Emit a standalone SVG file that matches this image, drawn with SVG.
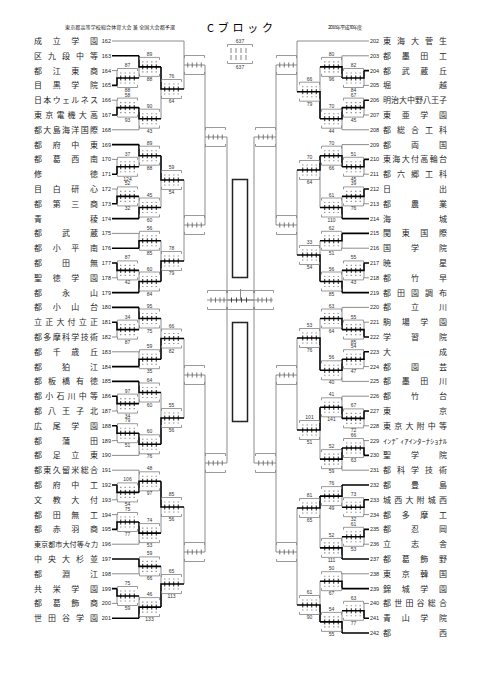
<svg xmlns="http://www.w3.org/2000/svg" width="481" height="680" viewBox="0 0 481 680">
<style>
.w{stroke:#000;stroke-width:1.6;fill:none}
.l{stroke:#808080;stroke-width:0.9;fill:none}
.nm{font-family:"Noto Sans CJK JP","Noto Sans CJK SC",sans-serif;font-size:8px;fill:#262626}
.no{font-family:"Liberation Sans",sans-serif;font-size:5.5px;fill:#222}
.nr{font-family:"Liberation Sans",sans-serif;font-size:5.5px;fill:#222;text-anchor:end}
.sc{font-family:"Liberation Sans",sans-serif;font-size:5px;fill:#333;text-anchor:middle}
.hd{font-family:"Noto Sans CJK JP",sans-serif;font-size:5px;fill:#222}
</style>
<defs>
<g id="bp">
<path d="M0.5,-7V-9.5H20.5V-7M0.5,7V9.5H20.5V7" stroke="#808080" stroke-width="0.8" fill="none"/>
<path d="M3,-5h1.5M7.5,-5h1.5M12,-5h1.5M16.5,-5h1.5M3,5h1.5M7.5,5h1.5M12,5h1.5M16.5,5h1.5" stroke="#999" stroke-width="1.1" fill="none"/>
<path d="M3.75,-2.5v5M8.25,-2.5v5M12.75,-2.5v5M17.25,-2.5v5" stroke="#000" stroke-width="0.9" fill="none"/>
</g>
<g id="bu">
<path d="M0.5,-7V-9.5H20.5V-7M0.5,7V9.5H20.5V7" stroke="#808080" stroke-width="0.8" fill="none"/>
<path d="M3.75,-2.5v5M8.25,-2.5v5M12.75,-2.5v5M17.25,-2.5v5" stroke="#666" stroke-width="0.9" fill="none"/>
</g>
</defs>
<rect width="481" height="680" fill="#fff"/>

<g id="header">
<text class="hd" x="65" y="29" textLength="110">東京都高等学校総合体育大会 兼 全国大会都予選</text>
<text x="207" y="31.5" textLength="66" style="font-family:'Noto Sans CJK JP',sans-serif;font-size:11px">Cブロック</text>
<text class="hd" x="328" y="29" textLength="34">2018年平成30年度</text>
</g>

<g id="connectors">
<path class="l" d="M112,41H184M112,70.6H117M112,100.2H117M112,129.8H139M112,159.4H117M112,189H117M112,233.4H139M112,277.8H117M112,337H117M112,351.8H139M112,411H117M112,440.6H117M112,455.4H139M112,470.2H139M112,499.8H117M112,514.6H117M112,544.2H139M112,573.8H139M112,603.4H117
M117,70.6V78M117,100.2V107.6M117,159.4V166.8M117,189V196.4M117,277.8V270.4M117,337V329.6M117,411V403.6M117,440.6V433.2M117,499.8V492.4M117,514.6V522M117,603.4V596
M139,78V66.9M139,129.8V118.7M139,166.8V155.7M139,196.4V207.5M139,233.4V240.8M139,270.4V281.5M139,329.6V318.5M139,351.8V359.2M139,403.6V392.5M139,455.4V444.3M139,470.2V481.3M139,544.2V533.1M139,573.8V566.4M139,596V607.1
M161,118.7V89M161,207.5V180M161,240.8V261M161,318.5V338.5M161,392.5V418M161,533.1V507M161,566.4V584
M184,41V89M184,65H205M184,180V261M184,225H205M184,338.5V418M184,375H205M184,507V584M184,552H205
M205,65V225M205,137H227M205,375V552M205,463H227M227,137V463M227,300H254M240.5,300V289
M369,41H297M369,55.8H342M369,85.4H364M369,115H364M369,129.8H342M369,144.6H342M369,174.2H364M369,203.8H364M369,248.2H342M369,277.8H364M369,307.4H342M369,322.2H364M369,366.6H364M369,381.4H342M369,396.2H342M369,425.8H364M369,440.6H364M369,470.2H342M369,514.6H364M369,544.2H364M369,573.8H342M369,603.4H364
M364,85.4V78M364,115V107.6M364,174.2V166.8M364,203.8V196.4M364,277.8V270.4M364,322.2V329.6M364,366.6V359.2M364,425.8V418.4M364,440.6V448M364,514.6V507.2M364,544.2V536.8M364,603.4V610.8
M342,55.8V66.9M342,129.8V118.7M342,144.6V155.7M342,196.4V207.5M342,248.2V240.8M342,270.4V281.5M342,307.4V318.5M342,381.4V370.3M342,396.2V407.3M342,470.2V459.1M342,507.2V496.1M342,536.8V547.9M342,573.8V581.2M342,610.8V621.9
M320,66.9V91.7M320,207.5V170M320,240.8V255M320,318.5V338M320,459.1V430M320,547.9V508M320,581.2V605
M297,41V91.7M297,65H276M297,170V255M297,225H276M297,338V430M297,375H276M297,508V605M297,552H276
M276,65V225M276,137H254M276,375V552M276,463H254M254,137V463
M207,300H273"/>
<path class="w" d="M112,55.8H139M112,85.4H117M112,115H117M112,144.6H139M112,174.2H117M112,203.8H117M112,218.6H139M112,248.2H139M112,263H117M112,292.6H139M112,307.4H139M112,322.2H117M112,366.6H139M112,381.4H139M112,396.2H117M112,425.8H117M112,485H117M112,529.4H117M112,559H139M112,588.6H117M112,618.2H139
M117,85.4V78H139M117,115V107.6H139M117,174.2V166.8H139M117,203.8V196.4H139M117,263V270.4H139M117,322.2V329.6H139M117,396.2V403.6H139M117,425.8V433.2H139M117,485V492.4H139M117,529.4V522H139M117,588.6V596H139
M139,55.8V66.9H161M139,107.6V118.7H161M139,144.6V155.7H161M139,218.6V207.5H161M139,248.2V240.8H161M139,292.6V281.5H161M139,307.4V318.5H161M139,366.6V359.2H161M139,381.4V392.5H161M139,433.2V444.3H161M139,492.4V481.3H161M139,522V533.1H161M139,559V566.4H161M139,618.2V607.1H161
M161,66.9V89H184M161,155.7V180H184M161,281.5V261H184M161,359.2V338.5H184M161,444.3V418H184M161,481.3V507H184M161,607.1V584H184
M369,70.6H364M369,100.2H364M369,159.4H364M369,189H364M369,218.6H342M369,233.4H342M369,263H364M369,292.6H342M369,337H364M369,351.8H364M369,411H364M369,455.4H364M369,485H342M369,499.8H364M369,529.4H364M369,559H342M369,588.6H342M369,618.2H364M369,633H342
M364,70.6V78H342M364,100.2V107.6H342M364,159.4V166.8H342M364,189V196.4H342M364,263V270.4H342M364,337V329.6H342M364,351.8V359.2H342M364,411V418.4H342M364,455.4V448H342M364,499.8V507.2H342M364,529.4V536.8H342M364,618.2V610.8H342
M342,78V66.9H320M342,107.6V118.7H320M342,166.8V155.7H320M342,218.6V207.5H320M342,233.4V240.8H320M342,292.6V281.5H320M342,329.6V318.5H320M342,359.2V370.3H320M342,418.4V407.3H320M342,448V459.1H320M342,485V496.1H320M342,559V547.9H320M342,588.6V581.2H320M342,633V621.9H320
M320,118.7V91.7H297M320,155.7V170H297M320,281.5V255H297M320,370.3V338H297M320,407.3V430H297M320,496.1V508H297M320,621.9V605H297"/>
</g>

<g id="teams-left">
<g id="t162"><text class="nm" x="34" y="44" textLength="64">成立学園</text><text class="nr" x="111" y="43">162</text></g>
<g id="t163"><text class="nm" x="34" y="58.8" textLength="64">区九段中等</text><text class="nr" x="111" y="57.8">163</text></g>
<g id="t164"><text class="nm" x="34" y="73.6" textLength="64">都江東商</text><text class="nr" x="111" y="72.6">164</text></g>
<g id="t165"><text class="nm" x="34" y="88.4" textLength="64">目黒学院</text><text class="nr" x="111" y="87.4">165</text></g>
<g id="t166"><text class="nm" x="34" y="103.2" textLength="64">日本ウェルネス</text><text class="nr" x="111" y="102.2">166</text></g>
<g id="t167"><text class="nm" x="34" y="118" textLength="64">東京電機大高</text><text class="nr" x="111" y="117">167</text></g>
<g id="t168"><text class="nm" x="34" y="132.8" textLength="64">都大島海洋国際</text><text class="nr" x="111" y="131.8">168</text></g>
<g id="t169"><text class="nm" x="34" y="147.6" textLength="64">都府中東</text><text class="nr" x="111" y="146.6">169</text></g>
<g id="t170"><text class="nm" x="34" y="162.4" textLength="64">都葛西南</text><text class="nr" x="111" y="161.4">170</text></g>
<g id="t171"><text class="nm" x="34" y="177.2" textLength="64">修徳</text><text class="nr" x="111" y="176.2">171</text></g>
<g id="t172"><text class="nm" x="34" y="192" textLength="64">目白研心</text><text class="nr" x="111" y="191">172</text></g>
<g id="t173"><text class="nm" x="34" y="206.8" textLength="64">都第三商</text><text class="nr" x="111" y="205.8">173</text></g>
<g id="t174"><text class="nm" x="34" y="221.6" textLength="64">青稜</text><text class="nr" x="111" y="220.6">174</text></g>
<g id="t175"><text class="nm" x="34" y="236.4" textLength="64">都武蔵</text><text class="nr" x="111" y="235.4">175</text></g>
<g id="t176"><text class="nm" x="34" y="251.2" textLength="64">都小平南</text><text class="nr" x="111" y="250.2">176</text></g>
<g id="t177"><text class="nm" x="34" y="266" textLength="64">都田無</text><text class="nr" x="111" y="265">177</text></g>
<g id="t178"><text class="nm" x="34" y="280.8" textLength="64">聖徳学園</text><text class="nr" x="111" y="279.8">178</text></g>
<g id="t179"><text class="nm" x="34" y="295.6" textLength="64">都永山</text><text class="nr" x="111" y="294.6">179</text></g>
<g id="t180"><text class="nm" x="34" y="310.4" textLength="64">都小山台</text><text class="nr" x="111" y="309.4">180</text></g>
<g id="t181"><text class="nm" x="34" y="325.2" textLength="64">立正大付立正</text><text class="nr" x="111" y="324.2">181</text></g>
<g id="t182"><text class="nm" x="34" y="340" textLength="64">都多摩科学技術</text><text class="nr" x="111" y="339">182</text></g>
<g id="t183"><text class="nm" x="34" y="354.8" textLength="64">都千歳丘</text><text class="nr" x="111" y="353.8">183</text></g>
<g id="t184"><text class="nm" x="34" y="369.6" textLength="64">都狛江</text><text class="nr" x="111" y="368.6">184</text></g>
<g id="t185"><text class="nm" x="34" y="384.4" textLength="64">都板橋有徳</text><text class="nr" x="111" y="383.4">185</text></g>
<g id="t186"><text class="nm" x="34" y="399.2" textLength="64">都小石川中等</text><text class="nr" x="111" y="398.2">186</text></g>
<g id="t187"><text class="nm" x="34" y="414" textLength="64">都八王子北</text><text class="nr" x="111" y="413">187</text></g>
<g id="t188"><text class="nm" x="34" y="428.8" textLength="64">広尾学園</text><text class="nr" x="111" y="427.8">188</text></g>
<g id="t189"><text class="nm" x="34" y="443.6" textLength="64">都蒲田</text><text class="nr" x="111" y="442.6">189</text></g>
<g id="t190"><text class="nm" x="34" y="458.4" textLength="64">都足立東</text><text class="nr" x="111" y="457.4">190</text></g>
<g id="t191"><text class="nm" x="34" y="473.2" textLength="64">都東久留米総合</text><text class="nr" x="111" y="472.2">191</text></g>
<g id="t192"><text class="nm" x="34" y="488" textLength="64">都府中工</text><text class="nr" x="111" y="487">192</text></g>
<g id="t193"><text class="nm" x="34" y="502.8" textLength="64">文教大付</text><text class="nr" x="111" y="501.8">193</text></g>
<g id="t194"><text class="nm" x="34" y="517.6" textLength="64">都田無工</text><text class="nr" x="111" y="516.6">194</text></g>
<g id="t195"><text class="nm" x="34" y="532.4" textLength="64">都赤羽商</text><text class="nr" x="111" y="531.4">195</text></g>
<g id="t196"><text class="nm" x="34" y="547.2" textLength="64" lengthAdjust="spacingAndGlyphs" style="font-size:7px">東京都市大付等々力</text><text class="nr" x="111" y="546.2">196</text></g>
<g id="t197"><text class="nm" x="34" y="562" textLength="64">中央大杉並</text><text class="nr" x="111" y="561">197</text></g>
<g id="t198"><text class="nm" x="34" y="576.8" textLength="64">都淵江</text><text class="nr" x="111" y="575.8">198</text></g>
<g id="t199"><text class="nm" x="34" y="591.6" textLength="64">共栄学園</text><text class="nr" x="111" y="590.6">199</text></g>
<g id="t200"><text class="nm" x="34" y="606.4" textLength="64">都葛飾商</text><text class="nr" x="111" y="605.4">200</text></g>
<g id="t201"><text class="nm" x="34" y="621.2" textLength="64">世田谷学園</text><text class="nr" x="111" y="620.2">201</text></g>
</g>

<g id="teams-right">
<g id="t202"><text class="no" x="370" y="43">202</text><text class="nm" x="383" y="44" textLength="64">東海大菅生</text></g>
<g id="t203"><text class="no" x="370" y="57.8">203</text><text class="nm" x="383" y="58.8" textLength="64">都墨田工</text></g>
<g id="t204"><text class="no" x="370" y="72.6">204</text><text class="nm" x="383" y="73.6" textLength="64">都武蔵丘</text></g>
<g id="t205"><text class="no" x="370" y="87.4">205</text><text class="nm" x="383" y="88.4" textLength="64">堀越</text></g>
<g id="t206"><text class="no" x="370" y="102.2">206</text><text class="nm" x="383" y="103.2" textLength="64">明治大中野八王子</text></g>
<g id="t207"><text class="no" x="370" y="117">207</text><text class="nm" x="383" y="118" textLength="64">東亜学園</text></g>
<g id="t208"><text class="no" x="370" y="131.8">208</text><text class="nm" x="383" y="132.8" textLength="64">都総合工科</text></g>
<g id="t209"><text class="no" x="370" y="146.6">209</text><text class="nm" x="383" y="147.6" textLength="64">都両国</text></g>
<g id="t210"><text class="no" x="370" y="161.4">210</text><text class="nm" x="383" y="162.4" textLength="64">東海大付高輪台</text></g>
<g id="t211"><text class="no" x="370" y="176.2">211</text><text class="nm" x="383" y="177.2" textLength="64">都六郷工科</text></g>
<g id="t212"><text class="no" x="370" y="191">212</text><text class="nm" x="383" y="192" textLength="64">日出</text></g>
<g id="t213"><text class="no" x="370" y="205.8">213</text><text class="nm" x="383" y="206.8" textLength="64">都農業</text></g>
<g id="t214"><text class="no" x="370" y="220.6">214</text><text class="nm" x="383" y="221.6" textLength="64">海城</text></g>
<g id="t215"><text class="no" x="370" y="235.4">215</text><text class="nm" x="383" y="236.4" textLength="64">関東国際</text></g>
<g id="t216"><text class="no" x="370" y="250.2">216</text><text class="nm" x="383" y="251.2" textLength="64">国学院</text></g>
<g id="t217"><text class="no" x="370" y="265">217</text><text class="nm" x="383" y="266" textLength="64">暁星</text></g>
<g id="t218"><text class="no" x="370" y="279.8">218</text><text class="nm" x="383" y="280.8" textLength="64">都竹早</text></g>
<g id="t219"><text class="no" x="370" y="294.6">219</text><text class="nm" x="383" y="295.6" textLength="64">都田園調布</text></g>
<g id="t220"><text class="no" x="370" y="309.4">220</text><text class="nm" x="383" y="310.4" textLength="64">都立川</text></g>
<g id="t221"><text class="no" x="370" y="324.2">221</text><text class="nm" x="383" y="325.2" textLength="64">駒場学園</text></g>
<g id="t222"><text class="no" x="370" y="339">222</text><text class="nm" x="383" y="340" textLength="64">学習院</text></g>
<g id="t223"><text class="no" x="370" y="353.8">223</text><text class="nm" x="383" y="354.8" textLength="64">大成</text></g>
<g id="t224"><text class="no" x="370" y="368.6">224</text><text class="nm" x="383" y="369.6" textLength="64">都園芸</text></g>
<g id="t225"><text class="no" x="370" y="383.4">225</text><text class="nm" x="383" y="384.4" textLength="64">都墨田川</text></g>
<g id="t226"><text class="no" x="370" y="398.2">226</text><text class="nm" x="383" y="399.2" textLength="64">都竹台</text></g>
<g id="t227"><text class="no" x="370" y="413">227</text><text class="nm" x="383" y="414" textLength="64">東京</text></g>
<g id="t228"><text class="no" x="370" y="427.8">228</text><text class="nm" x="383" y="428.8" textLength="64">東京大附中等</text></g>
<g id="t229"><text class="no" x="370" y="442.6">229</text><text class="nm" x="383" y="443.6" textLength="64" lengthAdjust="spacingAndGlyphs" style="font-size:6.5px">ｲﾝﾃﾞｨｱｲﾝﾀｰﾅｼｮﾅﾙ</text></g>
<g id="t230"><text class="no" x="370" y="457.4">230</text><text class="nm" x="383" y="458.4" textLength="64">聖学院</text></g>
<g id="t231"><text class="no" x="370" y="472.2">231</text><text class="nm" x="383" y="473.2" textLength="64">都科学技術</text></g>
<g id="t232"><text class="no" x="370" y="487">232</text><text class="nm" x="383" y="488" textLength="64">都豊島</text></g>
<g id="t233"><text class="no" x="370" y="501.8">233</text><text class="nm" x="383" y="502.8" textLength="64">城西大附城西</text></g>
<g id="t234"><text class="no" x="370" y="516.6">234</text><text class="nm" x="383" y="517.6" textLength="64">都多摩工</text></g>
<g id="t235"><text class="no" x="370" y="531.4">235</text><text class="nm" x="383" y="532.4" textLength="64">都忍岡</text></g>
<g id="t236"><text class="no" x="370" y="546.2">236</text><text class="nm" x="383" y="547.2" textLength="64">立志舎</text></g>
<g id="t237"><text class="no" x="370" y="561">237</text><text class="nm" x="383" y="562" textLength="64">都葛飾野</text></g>
<g id="t238"><text class="no" x="370" y="575.8">238</text><text class="nm" x="383" y="576.8" textLength="64">東京韓国</text></g>
<g id="t239"><text class="no" x="370" y="590.6">239</text><text class="nm" x="383" y="591.6" textLength="64">錦城学園</text></g>
<g id="t240"><text class="no" x="370" y="605.4">240</text><text class="nm" x="383" y="606.4" textLength="64">都世田谷総合</text></g>
<g id="t241"><text class="no" x="370" y="620.2">241</text><text class="nm" x="383" y="621.2" textLength="64">青山学院</text></g>
<g id="t242"><text class="no" x="370" y="635">242</text><text class="nm" x="383" y="636" textLength="64">都西</text></g>
</g>

<g id="matches-left">
<g id="mA1"><use href="#bp" x="117" y="78"/><text class="sc" x="127.5" y="67">87</text><text class="sc" x="127.5" y="92">88</text></g>
<g id="mA2"><use href="#bp" x="117" y="107.6"/><text class="sc" x="127.5" y="96.6">58</text><text class="sc" x="127.5" y="121.6">93</text></g>
<g id="mA3"><use href="#bp" x="117" y="166.8"/><text class="sc" x="127.5" y="155.8">37</text><text class="sc" x="127.5" y="180.8">124</text></g>
<g id="mA4"><use href="#bp" x="117" y="196.4"/><text class="sc" x="127.5" y="185.4">52</text><text class="sc" x="127.5" y="210.4">32</text></g>
<g id="mA5"><use href="#bp" x="117" y="270.4"/><text class="sc" x="127.5" y="259.4">87</text><text class="sc" x="127.5" y="284.4">42</text></g>
<g id="mA6"><use href="#bp" x="117" y="329.6"/><text class="sc" x="127.5" y="318.6">34</text><text class="sc" x="127.5" y="343.6">87</text></g>
<g id="mA7"><use href="#bp" x="117" y="403.6"/><text class="sc" x="127.5" y="392.6">97</text><text class="sc" x="127.5" y="417.6">34</text></g>
<g id="mA8"><use href="#bp" x="117" y="433.2"/><text class="sc" x="127.5" y="422.2">79</text><text class="sc" x="127.5" y="447.2">51</text></g>
<g id="mA9"><use href="#bp" x="117" y="492.4"/><text class="sc" x="127.5" y="481.4">106</text><text class="sc" x="127.5" y="506.4">54</text></g>
<g id="mA10"><use href="#bp" x="117" y="522"/><text class="sc" x="127.5" y="511">75</text><text class="sc" x="127.5" y="536">77</text></g>
<g id="mA11"><use href="#bp" x="117" y="596"/><text class="sc" x="127.5" y="585">75</text><text class="sc" x="127.5" y="610">59</text></g>
<g id="mB1"><use href="#bp" x="139" y="66.9"/><text class="sc" x="149.5" y="55.9">89</text><text class="sc" x="149.5" y="80.9">88</text></g>
<g id="mB2"><use href="#bp" x="139" y="118.7"/><text class="sc" x="149.5" y="107.7">90</text><text class="sc" x="149.5" y="132.7">43</text></g>
<g id="mB3"><use href="#bp" x="139" y="155.7"/><text class="sc" x="149.5" y="144.7">89</text><text class="sc" x="149.5" y="169.7">88</text></g>
<g id="mB4"><use href="#bp" x="139" y="207.5"/><text class="sc" x="149.5" y="196.5">45</text><text class="sc" x="149.5" y="221.5">60</text></g>
<g id="mB5"><use href="#bp" x="139" y="240.8"/><text class="sc" x="149.5" y="229.8">56</text><text class="sc" x="149.5" y="254.8">85</text></g>
<g id="mB6"><use href="#bp" x="139" y="281.5"/><text class="sc" x="149.5" y="270.5">60</text><text class="sc" x="149.5" y="295.5">84</text></g>
<g id="mB7"><use href="#bp" x="139" y="318.5"/><text class="sc" x="149.5" y="307.5">95</text><text class="sc" x="149.5" y="332.5">75</text></g>
<g id="mB8"><use href="#bp" x="139" y="359.2"/><text class="sc" x="149.5" y="348.2">59</text><text class="sc" x="149.5" y="373.2">35</text></g>
<g id="mB9"><use href="#bp" x="139" y="392.5"/><text class="sc" x="149.5" y="381.5">64</text><text class="sc" x="149.5" y="406.5">60</text></g>
<g id="mB10"><use href="#bp" x="139" y="444.3"/><text class="sc" x="149.5" y="433.3">60</text><text class="sc" x="149.5" y="458.3">76</text></g>
<g id="mB11"><use href="#bp" x="139" y="481.3"/><text class="sc" x="149.5" y="470.3">48</text><text class="sc" x="149.5" y="495.3">97</text></g>
<g id="mB12"><use href="#bp" x="139" y="533.1"/><text class="sc" x="149.5" y="522.1">74</text><text class="sc" x="149.5" y="547.1">53</text></g>
<g id="mB13"><use href="#bp" x="139" y="566.4"/><text class="sc" x="149.5" y="555.4">59</text><text class="sc" x="149.5" y="580.4">66</text></g>
<g id="mB14"><use href="#bp" x="139" y="607.1"/><text class="sc" x="149.5" y="596.1">46</text><text class="sc" x="149.5" y="621.1">133</text></g>
<g id="mC1"><use href="#bp" x="161" y="89"/><text class="sc" x="171.5" y="78">76</text><text class="sc" x="171.5" y="103">64</text></g>
<g id="mC2"><use href="#bp" x="161" y="180"/><text class="sc" x="171.5" y="169">59</text><text class="sc" x="171.5" y="194">54</text></g>
<g id="mC3"><use href="#bp" x="161" y="261"/><text class="sc" x="171.5" y="250">78</text><text class="sc" x="171.5" y="275">79</text></g>
<g id="mC4"><use href="#bp" x="161" y="338.5"/><text class="sc" x="171.5" y="327.5">66</text><text class="sc" x="171.5" y="352.5">82</text></g>
<g id="mC5"><use href="#bp" x="161" y="418"/><text class="sc" x="171.5" y="407">55</text><text class="sc" x="171.5" y="432">56</text></g>
<g id="mC6"><use href="#bp" x="161" y="507"/><text class="sc" x="171.5" y="496">85</text><text class="sc" x="171.5" y="521">56</text></g>
<g id="mC7"><use href="#bp" x="161" y="584"/><text class="sc" x="171.5" y="573">65</text><text class="sc" x="171.5" y="598">113</text></g>
<g id="mD1"><use href="#bu" x="184" y="65"/></g>
<g id="mD2"><use href="#bu" x="184" y="225"/></g>
<g id="mD3"><use href="#bu" x="184" y="375"/></g>
<g id="mD4"><use href="#bu" x="184" y="552"/></g>
<g id="mE1"><use href="#bu" x="205" y="137"/></g>
<g id="mE2"><use href="#bu" x="205" y="463"/></g>
</g>

<g id="matches-right">
<g id="mRA1"><use href="#bp" x="343" y="78"/><text class="sc" x="353.5" y="67">82</text><text class="sc" x="353.5" y="92">84</text></g>
<g id="mRA2"><use href="#bp" x="343" y="107.6"/><text class="sc" x="353.5" y="96.6">67</text><text class="sc" x="353.5" y="121.6">45</text></g>
<g id="mRA3"><use href="#bp" x="343" y="166.8"/><text class="sc" x="353.5" y="155.8">51</text><text class="sc" x="353.5" y="180.8">45</text></g>
<g id="mRA4"><use href="#bp" x="343" y="196.4"/><text class="sc" x="353.5" y="185.4">39</text><text class="sc" x="353.5" y="210.4">76</text></g>
<g id="mRA5"><use href="#bp" x="343" y="270.4"/><text class="sc" x="353.5" y="259.4">55</text><text class="sc" x="353.5" y="284.4">43</text></g>
<g id="mRA6"><use href="#bp" x="343" y="329.6"/><text class="sc" x="353.5" y="318.6">55</text><text class="sc" x="353.5" y="343.6">85</text></g>
<g id="mRA7"><use href="#bp" x="343" y="359.2"/><text class="sc" x="353.5" y="348.2">54</text><text class="sc" x="353.5" y="373.2">47</text></g>
<g id="mRA8"><use href="#bp" x="343" y="418.4"/><text class="sc" x="353.5" y="407.4">67</text><text class="sc" x="353.5" y="432.4">72</text></g>
<g id="mRA9"><use href="#bp" x="343" y="448"/><text class="sc" x="353.5" y="437">66</text><text class="sc" x="353.5" y="462">63</text></g>
<g id="mRA10"><use href="#bp" x="343" y="507.2"/><text class="sc" x="353.5" y="496.2">73</text><text class="sc" x="353.5" y="521.2">32</text></g>
<g id="mRA11"><use href="#bp" x="343" y="536.8"/><text class="sc" x="353.5" y="525.8">61</text><text class="sc" x="353.5" y="550.8">53</text></g>
<g id="mRA12"><use href="#bp" x="343" y="610.8"/><text class="sc" x="353.5" y="599.8">63</text><text class="sc" x="353.5" y="624.8">77</text></g>
<g id="mRB1"><use href="#bp" x="321" y="66.9"/><text class="sc" x="331.5" y="55.9">80</text><text class="sc" x="331.5" y="80.9">96</text></g>
<g id="mRB2"><use href="#bp" x="321" y="118.7"/><text class="sc" x="331.5" y="107.7">70</text><text class="sc" x="331.5" y="132.7">44</text></g>
<g id="mRB3"><use href="#bp" x="321" y="155.7"/><text class="sc" x="331.5" y="144.7">70</text><text class="sc" x="331.5" y="169.7">66</text></g>
<g id="mRB4"><use href="#bp" x="321" y="207.5"/><text class="sc" x="331.5" y="196.5">61</text><text class="sc" x="331.5" y="221.5">110</text></g>
<g id="mRB5"><use href="#bp" x="321" y="240.8"/><text class="sc" x="331.5" y="229.8">62</text><text class="sc" x="331.5" y="254.8">51</text></g>
<g id="mRB6"><use href="#bp" x="321" y="281.5"/><text class="sc" x="331.5" y="270.5">56</text><text class="sc" x="331.5" y="295.5">85</text></g>
<g id="mRB7"><use href="#bp" x="321" y="318.5"/><text class="sc" x="331.5" y="307.5">63</text><text class="sc" x="331.5" y="332.5">64</text></g>
<g id="mRB8"><use href="#bp" x="321" y="370.3"/><text class="sc" x="331.5" y="359.3">56</text><text class="sc" x="331.5" y="384.3">40</text></g>
<g id="mRB9"><use href="#bp" x="321" y="407.3"/><text class="sc" x="331.5" y="396.3">41</text><text class="sc" x="331.5" y="421.3">141</text></g>
<g id="mRB10"><use href="#bp" x="321" y="459.1"/><text class="sc" x="331.5" y="448.1">52</text><text class="sc" x="331.5" y="473.1">59</text></g>
<g id="mRB11"><use href="#bp" x="321" y="496.1"/><text class="sc" x="331.5" y="485.1">76</text><text class="sc" x="331.5" y="510.1">49</text></g>
<g id="mRB12"><use href="#bp" x="321" y="547.9"/><text class="sc" x="331.5" y="536.9">52</text><text class="sc" x="331.5" y="561.9">111</text></g>
<g id="mRB13"><use href="#bp" x="321" y="581.2"/><text class="sc" x="331.5" y="570.2">50</text><text class="sc" x="331.5" y="595.2">67</text></g>
<g id="mRB14"><use href="#bp" x="321" y="621.9"/><text class="sc" x="331.5" y="610.9">54</text><text class="sc" x="331.5" y="635.9">55</text></g>
<g id="mRC1"><use href="#bp" x="299" y="91.7"/><text class="sc" x="309.5" y="80.7">66</text><text class="sc" x="309.5" y="105.7">79</text></g>
<g id="mRC2"><use href="#bp" x="299" y="170"/><text class="sc" x="309.5" y="159">70</text><text class="sc" x="309.5" y="184">64</text></g>
<g id="mRC3"><use href="#bp" x="299" y="255"/><text class="sc" x="309.5" y="244">33</text><text class="sc" x="309.5" y="269">54</text></g>
<g id="mRC4"><use href="#bp" x="299" y="338"/><text class="sc" x="309.5" y="327">53</text><text class="sc" x="309.5" y="352">76</text></g>
<g id="mRC5"><use href="#bp" x="299" y="430"/><text class="sc" x="309.5" y="419">101</text><text class="sc" x="309.5" y="444">51</text></g>
<g id="mRC6"><use href="#bp" x="299" y="508"/><text class="sc" x="309.5" y="497">81</text><text class="sc" x="309.5" y="522">65</text></g>
<g id="mRC7"><use href="#bp" x="299" y="605"/><text class="sc" x="309.5" y="594">61</text><text class="sc" x="309.5" y="619">90</text></g>
<g id="mRD1"><use href="#bu" x="276" y="65"/></g>
<g id="mRD2"><use href="#bu" x="276" y="225"/></g>
<g id="mRD3"><use href="#bu" x="276" y="375"/></g>
<g id="mRD4"><use href="#bu" x="276" y="552"/></g>
<g id="mRE1"><use href="#bu" x="255" y="137"/></g>
<g id="mRE2"><use href="#bu" x="255" y="463"/></g>
</g>

<g id="final">
<path d="M207.5,293V290.5H226.5V293M227.5,293V290.5H253.5V293M254.5,293V290.5H273.5V293M207.5,307V309.5H226.5V307M227.5,307V309.5H253.5V307M254.5,307V309.5H273.5V307" stroke="#808080" stroke-width="0.8" fill="none"/>
<path d="M211,297.5v5M215.5,297.5v5M220,297.5v5M224,297.5v5M258,297.5v5M262,297.5v5M266.5,297.5v5M271,297.5v5" stroke="#666" stroke-width="0.9" fill="none"/>
<path d="M231.5,297.5v5M236.5,297.5v5M241.5,297.5v5M246.5,297.5v5" stroke="#333" stroke-width="0.9" fill="none"/>
<rect x="232.5" y="179.5" width="15" height="98" fill="none" stroke="#222" stroke-width="1.5"/>
<rect x="232.5" y="322.5" width="15" height="99" fill="none" stroke="#222" stroke-width="1.5"/>
</g>

<g id="legend">
<text class="sc" x="240" y="43">637</text>
<path d="M227.5,47V44.5H252.5V47M227.5,61V63.5H252.5V61" stroke="#808080" stroke-width="0.8" fill="none"/>
<path d="M231,48v5M236,48v5M241,48v5M246,48v5M231,55v5M236,55v5M241,55v5M246,55v5" stroke="#666" stroke-width="0.8" fill="none"/>
<text class="sc" x="240" y="69">637</text>
</g>
</svg>
